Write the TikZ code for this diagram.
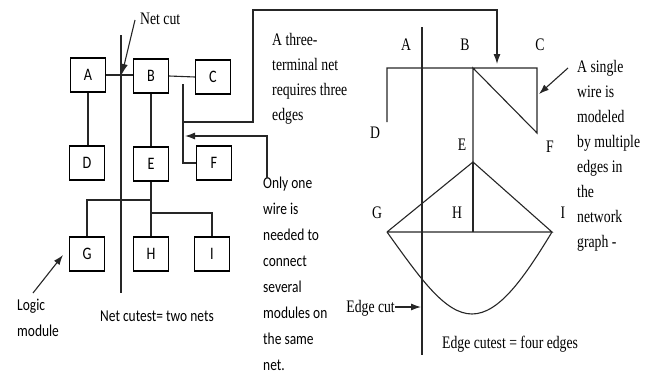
\documentclass[tikz,border=0pt]{standalone}
\usepackage{fontspec}
\setmainfont{Liberation Serif}[FakeStretch=0.78]
\newfontfamily\calib{Carlito}[FakeStretch=0.81]
\usetikzlibrary{arrows.meta}
\tikzset{
  module/.style={draw,line width=1.1pt,minimum width=35pt,minimum height=34pt,inner sep=0pt,
    font=\calib\fontsize{17.5}{26}\selectfont},
  wire/.style={line width=1.1pt,black!85},
  pointer/.style={wire,-{Latex[length=10pt,width=7pt]}},
  serif/.style={font=\fontsize{17.6}{25}\selectfont,inner sep=0pt},
  sans/.style={font=\calib\fontsize{16.6}{26}\selectfont,inner sep=0pt},
}
\begin{document}
\begin{tikzpicture}[x=1pt,y=-1pt]
\useasboundingbox (0,0) rectangle (651,380);

% logic modules
\node[module] (A) at (88,75) {A};
\node[module] (B) at (151,76) {B};
\node[module] (C) at (213,77) {C};
\node[module] (D) at (87,163) {D};
\node[module] (E) at (151,164) {E};
\node[module] (F) at (214,163) {F};
\node[module] (G) at (87,254) {G};
\node[module] (H) at (151,254) {H};
\node[module] (I) at (212,254) {I};

\draw[wire] (A.east) -- (A.east -| B.west);
\draw[wire] (B.east) -- (C.west);
\draw[wire] (A.south) -- (A.south |- D.north);
\draw[wire] (B.south) -- (E.north);

% three-terminal net
\coordinate (ntop) at (183,84);
\coordinate (nmid) at (183,122);
\coordinate (nF) at (183,163);
\draw[wire] (ntop) -- (nF) -- (F.west);
\coordinate (k1) at (253,122);
\coordinate (k2) at (253,10);
\coordinate (k3) at (497,10);
\coordinate (k4) at (497,64);
\draw[pointer] (nmid) -- (k1) -- (k2) -- (k3) -- (k4);

% net of E, G, H, I
\coordinate (e1) at (151,200);
\coordinate (e2) at (151,213);
\draw[wire] (E.south) -- (H.north);
\draw[wire] (e1) -- (e1 -| G.north) -- (G.north);
\draw[wire] (e2) -- (e2 -| I.north) -- (I.north);

% net cut
\coordinate (cut1) at (121,35);
\coordinate (cut2) at (121,293);
\draw[wire] (cut1) -- (cut2);
\node[serif,anchor=base west] (netcut) at (140,24) {Net cut};
\coordinate (nc) at (122,74);
\draw[pointer] (135,20) -- (nc);

\node[serif,align=left,anchor=base west] (three) at (272,120)
  {A three-\\terminal net\\requires three\\edges};
\node[sans,align=left,anchor=base west] (only) at (263,370)
  {Only one\\wire is\\needed to\\connect\\several\\modules on\\the same\\net.};
\coordinate (o1) at (267,178);
\coordinate (o2) at (267,136);
\coordinate (o3) at (185,136);
\draw[pointer] (o1) -- (o2) -- (o3);

\node[sans,align=left,anchor=base west] (logic) at (17,336) {Logic\\module};
\draw[pointer] (33,293) -- (63,255);
\node[sans,anchor=base west] (netcutset) at (100,321) {Net cutest= two nets};

% network graph
\coordinate (pD0) at (387,68);
\coordinate (pD) at (387,122);
\coordinate (pB) at (473,68);
\coordinate (pC) at (537,68);
\coordinate (pF) at (537,133);
\coordinate (pE) at (473,162);
\coordinate (pG) at (387,232);
\coordinate (pH) at (473,232);
\coordinate (pI) at (552,232);
\coordinate (pU) at (472,314);

\draw[wire] (pD) -- (pD0) -- (pC) -- (pF) -- (pB) -- (pE);
\draw[wire] (pG) -- (pE) -- (pI) -- (pG);
\draw[wire] (pE) -- (pH);
\draw[wire] (pG) .. controls (420,278) and (445,314) .. (pU)
             .. controls (499,314) and (524,278) .. (pI);

\node[serif] (lA) at (406,45) {A};
\node[serif] (lB) at (465,45) {B};
\node[serif] (lC) at (540,45) {C};
\node[serif] (lD) at (375,133) {D};
\node[serif] (lE) at (462,145) {E};
\node[serif] (lF) at (550,147) {F};
\node[serif] (lG) at (377,213) {G};
\node[serif] (lH) at (457,213) {H};
\node[serif] (lI) at (563,213) {I};

% edge cut
\coordinate (ec1) at (422,27);
\coordinate (ec2) at (422,355);
\draw[wire] (ec1) -- (ec2);
\node[serif,anchor=base east] (edgecut) at (395,312) {Edge cut};
\draw[pointer] (edgecut.east |- 0,307) -- (421,307);
\node[serif,anchor=base west] (edgeset) at (442,348) {Edge cutest = four edges};

\node[serif,align=left,anchor=base west] (single) at (577,247)
  {A single\\wire is\\modeled\\by multiple\\edges in\\the\\network\\graph -};
\draw[pointer] (568,68) -- (539,94);
\end{tikzpicture}
\end{document}
